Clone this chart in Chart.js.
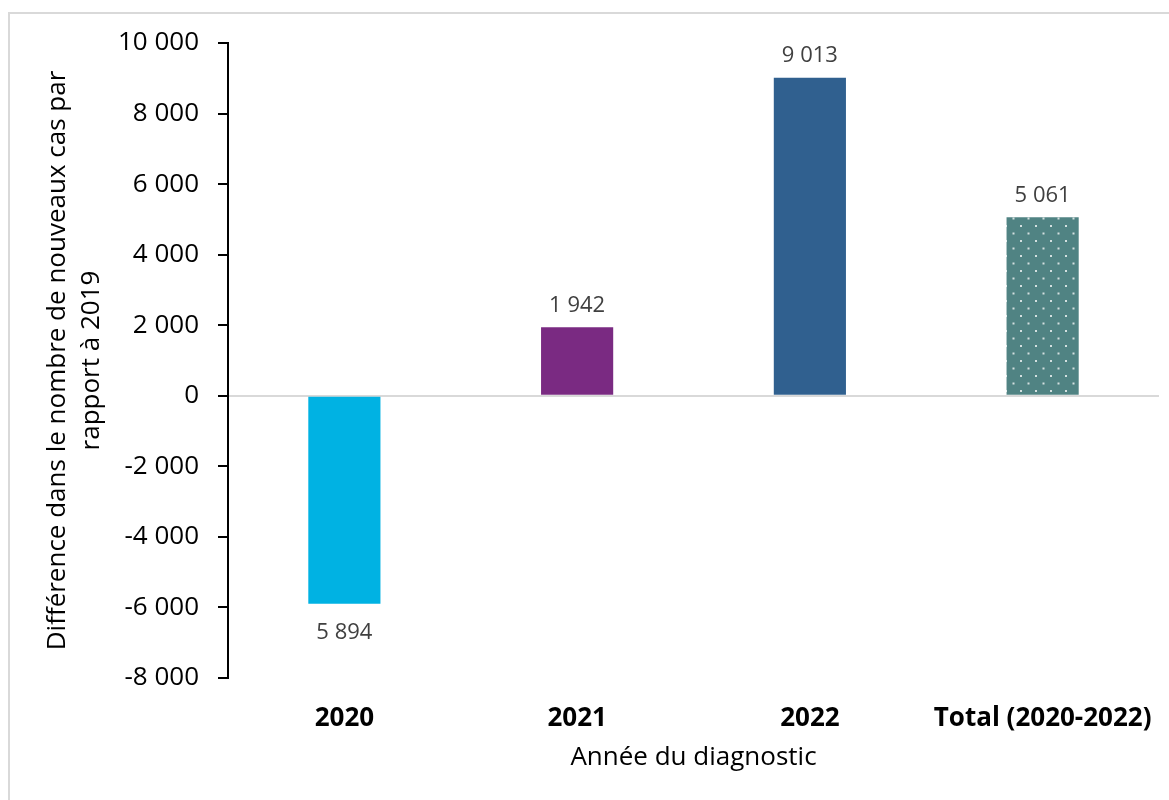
<!DOCTYPE html>
<html lang="fr">
<head>
<meta charset="utf-8">
<title>Différence dans le nombre de nouveaux cas</title>
<script src="https://cdn.jsdelivr.net/npm/chart.js@4.4.1/dist/chart.umd.min.js"></script>
<style>
  html, body { margin: 0; padding: 0; background: #fff; }
  #wrap { position: relative; width: 1169px; height: 800px; overflow: hidden; }
  #frame {
    position: absolute; left: 8px; top: 12px; width: 1200px; height: 840px;
    border-left: 2px solid #d9d9d9; border-top: 2px solid #d9d9d9;
  }
  #chart { position: absolute; left: 0; top: 0; }
</style>
</head>
<body>
<div id="wrap">
  <div id="frame"></div>
  <canvas id="chart" width="1169" height="800"></canvas>
</div>
<script>
const categories = ['2020', '2021', '2022', 'Total (2020-2022)'];
const differences = [-5894, 1942, 9013, 5061];
const yTickMin = -8000;
const yTickMax = 10000;
const yTickStep = 2000;

const FONT = '"Open Sans", "Liberation Sans", sans-serif';

// "9 013" style numbers, with a plain space as thousands separator
const withSpaces = n => String(n).replace(/\B(?=(\d{3})+(?!\d))/g, ' ');

// teal fill with a staggered grid of small white dots for the total
function dottedFill(base) {
  const tile = document.createElement('canvas');
  tile.width = 15;
  tile.height = 15;
  const t = tile.getContext('2d');
  t.fillStyle = base;
  t.fillRect(0, 0, 15, 15);
  t.fillStyle = 'rgba(255,255,255,0.75)';
  t.fillRect(0, 0, 2, 2);
  t.fillRect(7.5, 7.5, 2, 2);
  return t.createPattern(tile, 'repeat');
}

const barColors = ['#00b2e3', '#7a2a82', '#30608f', dottedFill('#508383')];

// value labels: above positive bars, below negative ones (shown without sign)
const valueLabels = {
  id: 'valueLabels',
  afterDatasetsDraw(chart) {
    const ctx = chart.ctx;
    const meta = chart.getDatasetMeta(0);
    ctx.save();
    ctx.font = '22px ' + FONT;
    ctx.fillStyle = '#404040';
    ctx.textAlign = 'center';
    ctx.textBaseline = 'middle';
    meta.data.forEach((bar, i) => {
      const v = differences[i];
      const y = v >= 0 ? bar.y - 22 : bar.y + 29;
      ctx.fillText(withSpaces(Math.abs(v)), bar.x, y);
    });
    ctx.restore();
  }
};

new Chart(document.getElementById('chart'), {
  type: 'bar',
  data: {
    labels: categories,
    datasets: [{
      data: differences,
      backgroundColor: barColors,
      borderWidth: 0,
      barPercentage: 0.31,
      categoryPercentage: 1
    }]
  },
  options: {
    responsive: false,
    animation: false,
    layout: { padding: { top: 43, right: 10, bottom: 0, left: 0 } },
    plugins: {
      legend: { display: false },
      tooltip: { enabled: false }
    },
    scales: {
      x: {
        grid: { display: false, drawTicks: false },
        border: { display: false },
        ticks: {
          color: '#000',
          padding: 25,
          maxRotation: 0,
          font: { family: FONT, size: 26, weight: 'bold' }
        },
        title: {
          display: true,
          text: 'Année du diagnostic',
          color: '#000',
          padding: { top: 0, bottom: 27 },
          font: { family: FONT, size: 26 }
        },
        afterFit(scale) {
          scale.height = 122;
          // the wide last label still fits inside its category
          scale.paddingLeft = 0;
          scale.paddingRight = 0;
        }
      },
      y: {
        min: yTickMin,
        max: yTickMax,
        ticks: {
          stepSize: yTickStep,
          color: '#000',
          padding: 19,
          font: { family: FONT, size: 26 },
          callback: v => (v < 0 ? '-' : '') + withSpaces(Math.abs(v))
        },
        grid: {
          color: c => (c.tick && c.tick.value === 0 ? '#d9d9d9' : 'rgba(0,0,0,0)'),
          tickColor: '#000',
          lineWidth: 2,
          tickLength: 10
        },
        border: { display: true, color: '#000', width: 2 },
        title: {
          display: true,
          text: ['Différence dans le nombre de nouveaux cas par', 'rapport à 2019'],
          color: '#000',
          padding: { top: 41, bottom: 0 },
          font: { family: FONT, size: 26, lineHeight: 1.31 }
        },
        afterFit(scale) { scale.width = 228; }
      }
    }
  },
  plugins: [valueLabels]
});
</script>
</body>
</html>
